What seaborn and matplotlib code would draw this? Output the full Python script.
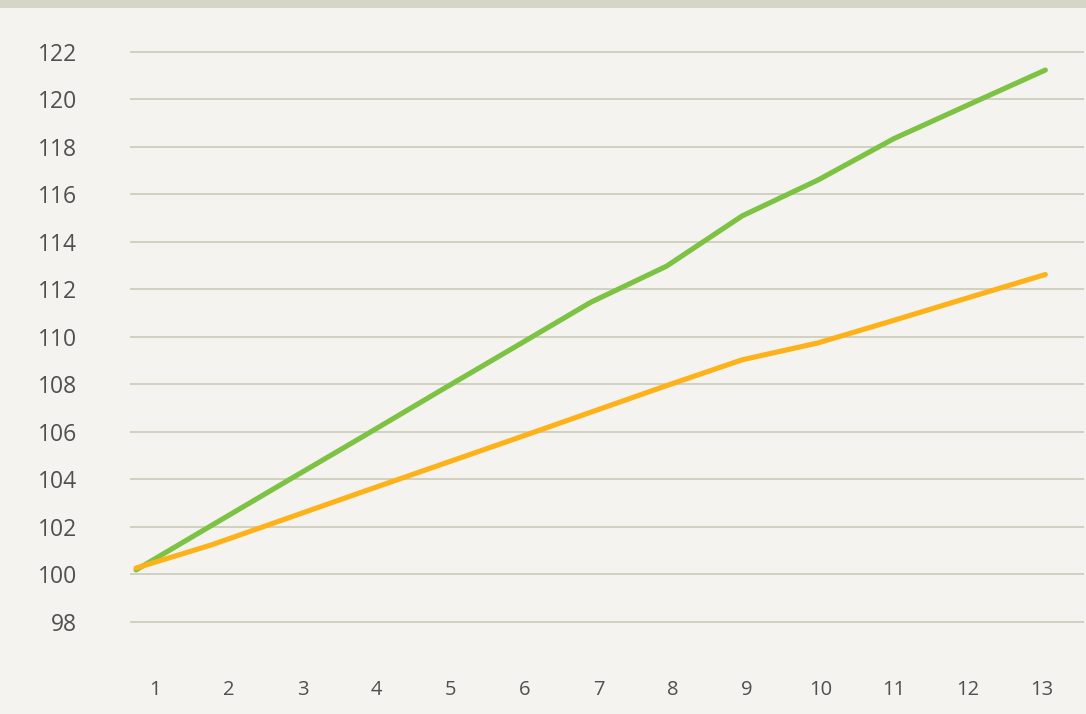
import matplotlib
matplotlib.use("Agg")
import matplotlib.pyplot as plt
import seaborn as sns
import pandas as pd
from matplotlib.patches import Rectangle

periods = list(range(1, 14))
green_values = [100.19, 102.07, 103.95, 105.82, 107.71, 109.58, 111.46,
                112.98, 115.10, 116.61, 118.35, 119.80, 121.24]
orange_values = [100.27, 101.25, 102.37, 103.49, 104.60, 105.71, 106.83,
                 107.95, 109.04, 109.75, 110.70, 111.67, 112.63]
y_ticks = list(range(98, 123, 2))

df = pd.DataFrame({
    "period": periods * 2,
    "value": green_values + orange_values,
    "series": ["green"] * len(periods) + ["orange"] * len(periods),
})

bg = "#f4f3ef"
sns.set_theme(style="white")
plt.rcParams["font.family"] = ["Open Sans", "DejaVu Sans"]

fig = plt.figure(figsize=(10.86, 7.14), dpi=100, facecolor=bg)
ax = fig.add_axes([130 / 1086, 1 - 640 / 714, (1084 - 130) / 1086, 600 / 714])
ax.set_facecolor(bg)

sns.lineplot(data=df, x="period", y="value", hue="series",
             palette={"green": "#7dc242", "orange": "#fdb21a"},
             linewidth=3.7, ax=ax, legend=False, sort=False,
             solid_capstyle="round")

ax.set_xlim(0.92, 13.51)
ax.set_ylim(97.24, 122.505)
ax.set_yticks(y_ticks)
# category labels are placed slightly offset from the data points, as in the original
label_offset, label_scale = 0.25, 73.9 / 75.75
ax.set_xticks([1 + label_offset + (p - 1) * label_scale for p in periods])
ax.set_xticklabels([str(p) for p in periods])
ax.yaxis.grid(True, color="#cbcbba", linewidth=1.2)
ax.xaxis.grid(False)
ax.set_axisbelow(True)
for s in ax.spines.values():
    s.set_visible(False)
ax.tick_params(axis="y", length=0, pad=38, labelsize=16.5, labelcolor="#505050")
ax.tick_params(axis="x", length=0, pad=29, labelsize=14.5, labelcolor="#505050")
ax.set_xlabel("")
ax.set_ylabel("")

fig.patches.append(Rectangle((0, 1 - 8 / 714), 1, 8 / 714, transform=fig.transFigure,
                             facecolor="#d6d6c6", edgecolor="none", zorder=0))

fig.savefig("out.png", dpi=100, facecolor=bg)
